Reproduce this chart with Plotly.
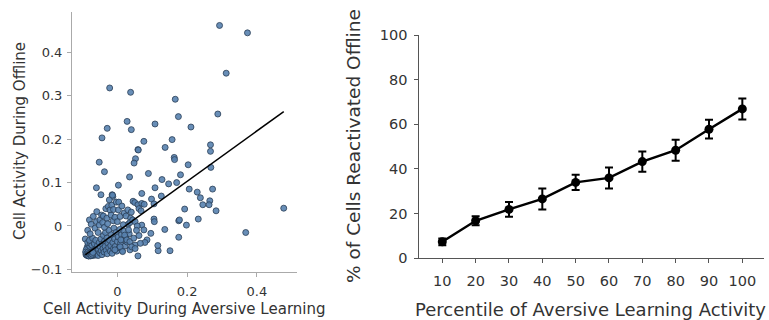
import plotly.graph_objects as go

# ---------------- data: left scatter ----------------
aversive_activity = [
    # sparse / outlying cells
    0.293, 0.373, 0.312, -0.022, 0.038, 0.166, 0.288, 0.175, 0.028, 0.108,
    -0.029, 0.040, 0.211, -0.044, 0.157, 0.076, 0.267, 0.137, 0.059, 0.267,
    0.163, 0.052, 0.164, -0.052, 0.048, 0.203, 0.268, -0.037, 0.089, 0.181,
    0.035, 0.128, 0.147, 0.170, 0.003, -0.060, 0.206, 0.273, 0.108, 0.229,
    -0.047, 0.070, -0.015, -0.013, 0.126, 0.238, 0.265, 0.245, 0.263, 0.283,
    0.193, 0.477, 0.098, 0.105, 0.136, 0.176, 0.178, 0.198, 0.232, 0.368,
    0.176, 0.151, 0.117, 0.116, 0.105, 0.106, 0.096, 0.059, 0.036, 0.051,
    0.070, 0.076, 0.085, 0.079, 0.060,
    # dense lower cluster
    -0.090, -0.088, -0.087, -0.085, -0.084, -0.083, -0.082, -0.081, -0.080, -0.079,
    -0.078, -0.077, -0.076, -0.075, -0.074, -0.073, -0.072, -0.071, -0.070, -0.069,
    -0.068, -0.067, -0.066, -0.065, -0.064, -0.063, -0.062, -0.061, -0.060, -0.086,
    -0.089, -0.091, -0.083, -0.079, -0.092, -0.085, -0.077, -0.073, -0.069, -0.066,
    -0.080, -0.071, -0.062, -0.058, -0.057, -0.055, -0.054, -0.052, -0.050, -0.049,
    -0.047, -0.046, -0.044, -0.043, -0.041, -0.040, -0.038, -0.037, -0.035, -0.034,
    -0.032, -0.030, -0.029, -0.027, -0.025, -0.024, -0.022, -0.020, -0.019, -0.017,
    -0.015, -0.013, -0.011, -0.010, -0.008, -0.006, -0.004, -0.002, 0.000, 0.002,
    0.005, 0.007, 0.009, 0.012, 0.014, 0.016, 0.019, 0.022, 0.025, 0.028,
    0.031, 0.034,
    -0.088, -0.086, -0.084, -0.082, -0.081, -0.079, -0.077, -0.075, -0.072, -0.070,
    # upper part of cluster
    -0.080, -0.069, -0.075, -0.085, -0.078, -0.064, -0.059, -0.060, -0.055, -0.050,
    -0.052, -0.045, -0.040, -0.042, -0.037, -0.033, -0.030, -0.028, -0.026, -0.023,
    -0.021, -0.018, -0.016, -0.014, -0.011, -0.012, -0.007, -0.003, 0.004, 0.003,
    0.000, 0.008, 0.013, 0.017, 0.020, 0.025, 0.030, 0.038, 0.036, 0.044,
    0.045, 0.050, 0.051, 0.057, 0.059, 0.070, 0.077, 0.032, 0.021, 0.010,
    0.027, 0.036, 0.041, 0.051, 0.008, 0.015, -0.007, 0.047, 0.062, 0.055,
    0.066, 0.040, 0.062, 0.068,
]
offline_activity = [
    0.462, 0.445, 0.352, 0.318, 0.308, 0.292, 0.258, 0.252, 0.241, 0.235,
    0.225, 0.222, 0.228, 0.203, 0.199, 0.195, 0.187, 0.181, 0.176, 0.172,
    0.158, 0.155, 0.153, 0.147, 0.145, 0.141, 0.135, 0.125, 0.121, 0.118,
    0.113, 0.107, 0.097, 0.100, 0.094, 0.088, 0.085, 0.085, 0.088, 0.078,
    0.072, 0.075, 0.072, 0.068, 0.069, 0.065, 0.058, 0.049, 0.049, 0.035,
    0.039, 0.041, 0.062, 0.051, -0.008, 0.012, 0.014, 0.002, 0.016, -0.015,
    -0.026, -0.057, -0.057, -0.045, 0.016, 0.010, -0.017, -0.069, -0.055, -0.044,
    0.002, -0.009, -0.032, -0.038, 0.175,
    -0.066, -0.062, -0.068, -0.058, -0.065, -0.069, -0.061, -0.055, -0.067, -0.063,
    -0.059, -0.069, -0.052, -0.064, -0.060, -0.067, -0.056, -0.049, -0.063, -0.068,
    -0.058, -0.053, -0.065, -0.046, -0.061, -0.055, -0.067, -0.050, -0.058, -0.048,
    -0.054, -0.060, -0.043, -0.047, -0.030, -0.038, -0.040, -0.044, -0.036, -0.041,
    -0.033, -0.028, -0.033, -0.063, -0.045, -0.068, -0.055, -0.038, -0.062, -0.048,
    -0.030, -0.057, -0.066, -0.042, -0.052, -0.022, -0.060, -0.035, -0.047, -0.015,
    -0.056, -0.028, -0.064, -0.040, -0.050, -0.010, -0.033, -0.058, -0.045, -0.020,
    -0.063, -0.038, -0.052, -0.005, -0.030, -0.047, -0.015, -0.058, -0.036, -0.025,
    -0.050, -0.008, -0.040, -0.020, -0.057, -0.031, -0.012, -0.046, -0.026, -0.037,
    0.004, -0.018,
    -0.064, -0.067, -0.060, -0.069, -0.063, -0.066, -0.062, -0.068, -0.065, -0.061,
    0.014, 0.022, 0.004, -0.010, -0.018, -0.005, 0.033, 0.010, -0.015, 0.014,
    0.002, 0.025, 0.023, 0.008, -0.003, 0.040, 0.018, 0.005, 0.045, 0.060,
    0.037, 0.025, 0.048, 0.071, 0.038, 0.012, 0.020, 0.055, 0.055, 0.037,
    0.010, 0.022, 0.046, 0.003, 0.030, 0.023, 0.037, 0.018, 0.008, 0.014,
    0.057, 0.054, 0.010, 0.000, 0.049, 0.052, 0.050, -0.009, -0.021, -0.032,
    -0.032, -0.036, -0.048, -0.052, -0.048, -0.059, -0.055, -0.028, -0.022, -0.010,
    -0.040, 0.032, 0.040, 0.035,
]
fit_slope = 0.58
fit_intercept = -0.013

# ---------------- data: right line chart ----------------
percentiles = [10, 20, 30, 40, 50, 60, 70, 80, 90, 100]
pct_reactivated = [7.4, 16.8, 21.9, 26.6, 34.0, 36.0, 43.3, 48.4, 57.8, 66.9]
pct_sem = [1.5, 2.0, 3.3, 4.7, 3.4, 4.7, 4.5, 4.7, 4.2, 4.7]

W, H = 769, 320
FONT = "DejaVu Sans"
TXT = "#333333"

fig = go.Figure()

fig.add_trace(go.Scatter(
    x=aversive_activity, y=offline_activity, mode="markers",
    marker=dict(size=6, color="rgba(88,130,175,0.9)",
                line=dict(color="#2a3e55", width=0.8)),
    xaxis="x", yaxis="y", showlegend=False, hoverinfo="skip"))

x_lo, x_hi = min(aversive_activity), max(aversive_activity)
fig.add_trace(go.Scatter(
    x=[x_lo, x_hi],
    y=[fit_intercept + fit_slope * x_lo, fit_intercept + fit_slope * x_hi],
    mode="lines", line=dict(color="black", width=1.5),
    xaxis="x", yaxis="y", showlegend=False, hoverinfo="skip"))

fig.add_trace(go.Scatter(
    x=percentiles, y=pct_reactivated, mode="lines+markers",
    line=dict(color="black", width=2.5),
    marker=dict(size=9, color="black"),
    error_y=dict(type="data", array=pct_sem, visible=True,
                 color="black", thickness=2, width=4),
    xaxis="x2", yaxis="y2", showlegend=False, hoverinfo="skip"))

def fx(px):
    return px / W

def fy(py):
    return 1 - py / H

def axis_common(size):
    return dict(showgrid=False, zeroline=False, showline=True, automargin=False,
                ticks="outside", ticklen=4,
                tickfont=dict(family=FONT, size=size, color=TXT))

fig.update_layout(
    template="none",
    width=W, height=H,
    margin=dict(l=0, r=0, t=0, b=0, pad=0, autoexpand=False),
    paper_bgcolor="white", plot_bgcolor="white",
    font=dict(family=FONT, color=TXT),
    xaxis=dict(domain=[fx(72), fx(297)], range=[-0.13, 0.515],
               tickvals=[0, 0.2, 0.4], linecolor="#aaaaaa", tickcolor="#aaaaaa",
               anchor="y", ticklabelstandoff=3, **axis_common(13)),
    yaxis=dict(domain=[fy(272), fy(12)], range=[-0.106, 0.493],
               tickvals=[-0.1, 0, 0.1, 0.2, 0.3, 0.4], linecolor="#aaaaaa",
               tickcolor="#aaaaaa", anchor="x", ticklabelstandoff=2, **axis_common(13)),
    xaxis2=dict(domain=[fx(419.3), fx(764)], range=[3.1, 106.5],
                tickvals=percentiles, linecolor="#555555", tickcolor="#555555",
                anchor="y2", ticklabelstandoff=5, **axis_common(14.5)),
    yaxis2=dict(domain=[fy(258.3), fy(35)], range=[0, 100],
                tickvals=[0, 20, 40, 60, 80, 100], linecolor="#555555",
                tickcolor="#555555", anchor="x2", ticklabelstandoff=4, **axis_common(14.5)),
)

fig.add_annotation(text="Cell Activity During Aversive Learning",
                   xref="paper", yref="paper", x=fx(184.5), y=fy(309),
                   xanchor="center", yanchor="middle", showarrow=False,
                   font=dict(family=FONT, size=15, color=TXT))
fig.add_annotation(text="Cell Activity During Offline",
                   xref="paper", yref="paper", x=fx(20), y=fy(141),
                   xanchor="center", yanchor="middle", showarrow=False, textangle=-90,
                   font=dict(family=FONT, size=15, color=TXT))
fig.add_annotation(text="Percentile of Aversive Learning Activity",
                   xref="paper", yref="paper", x=fx(413), y=fy(309),
                   xanchor="left", yanchor="middle", showarrow=False,
                   font=dict(family=FONT, size=18, color=TXT))
fig.add_annotation(text="% of Cells Reactivated Offline",
                   xref="paper", yref="paper", x=fx(353), y=fy(146),
                   xanchor="center", yanchor="middle", showarrow=False, textangle=-90,
                   font=dict(family=FONT, size=18.5, color=TXT))

fig.write_html("out.html")
